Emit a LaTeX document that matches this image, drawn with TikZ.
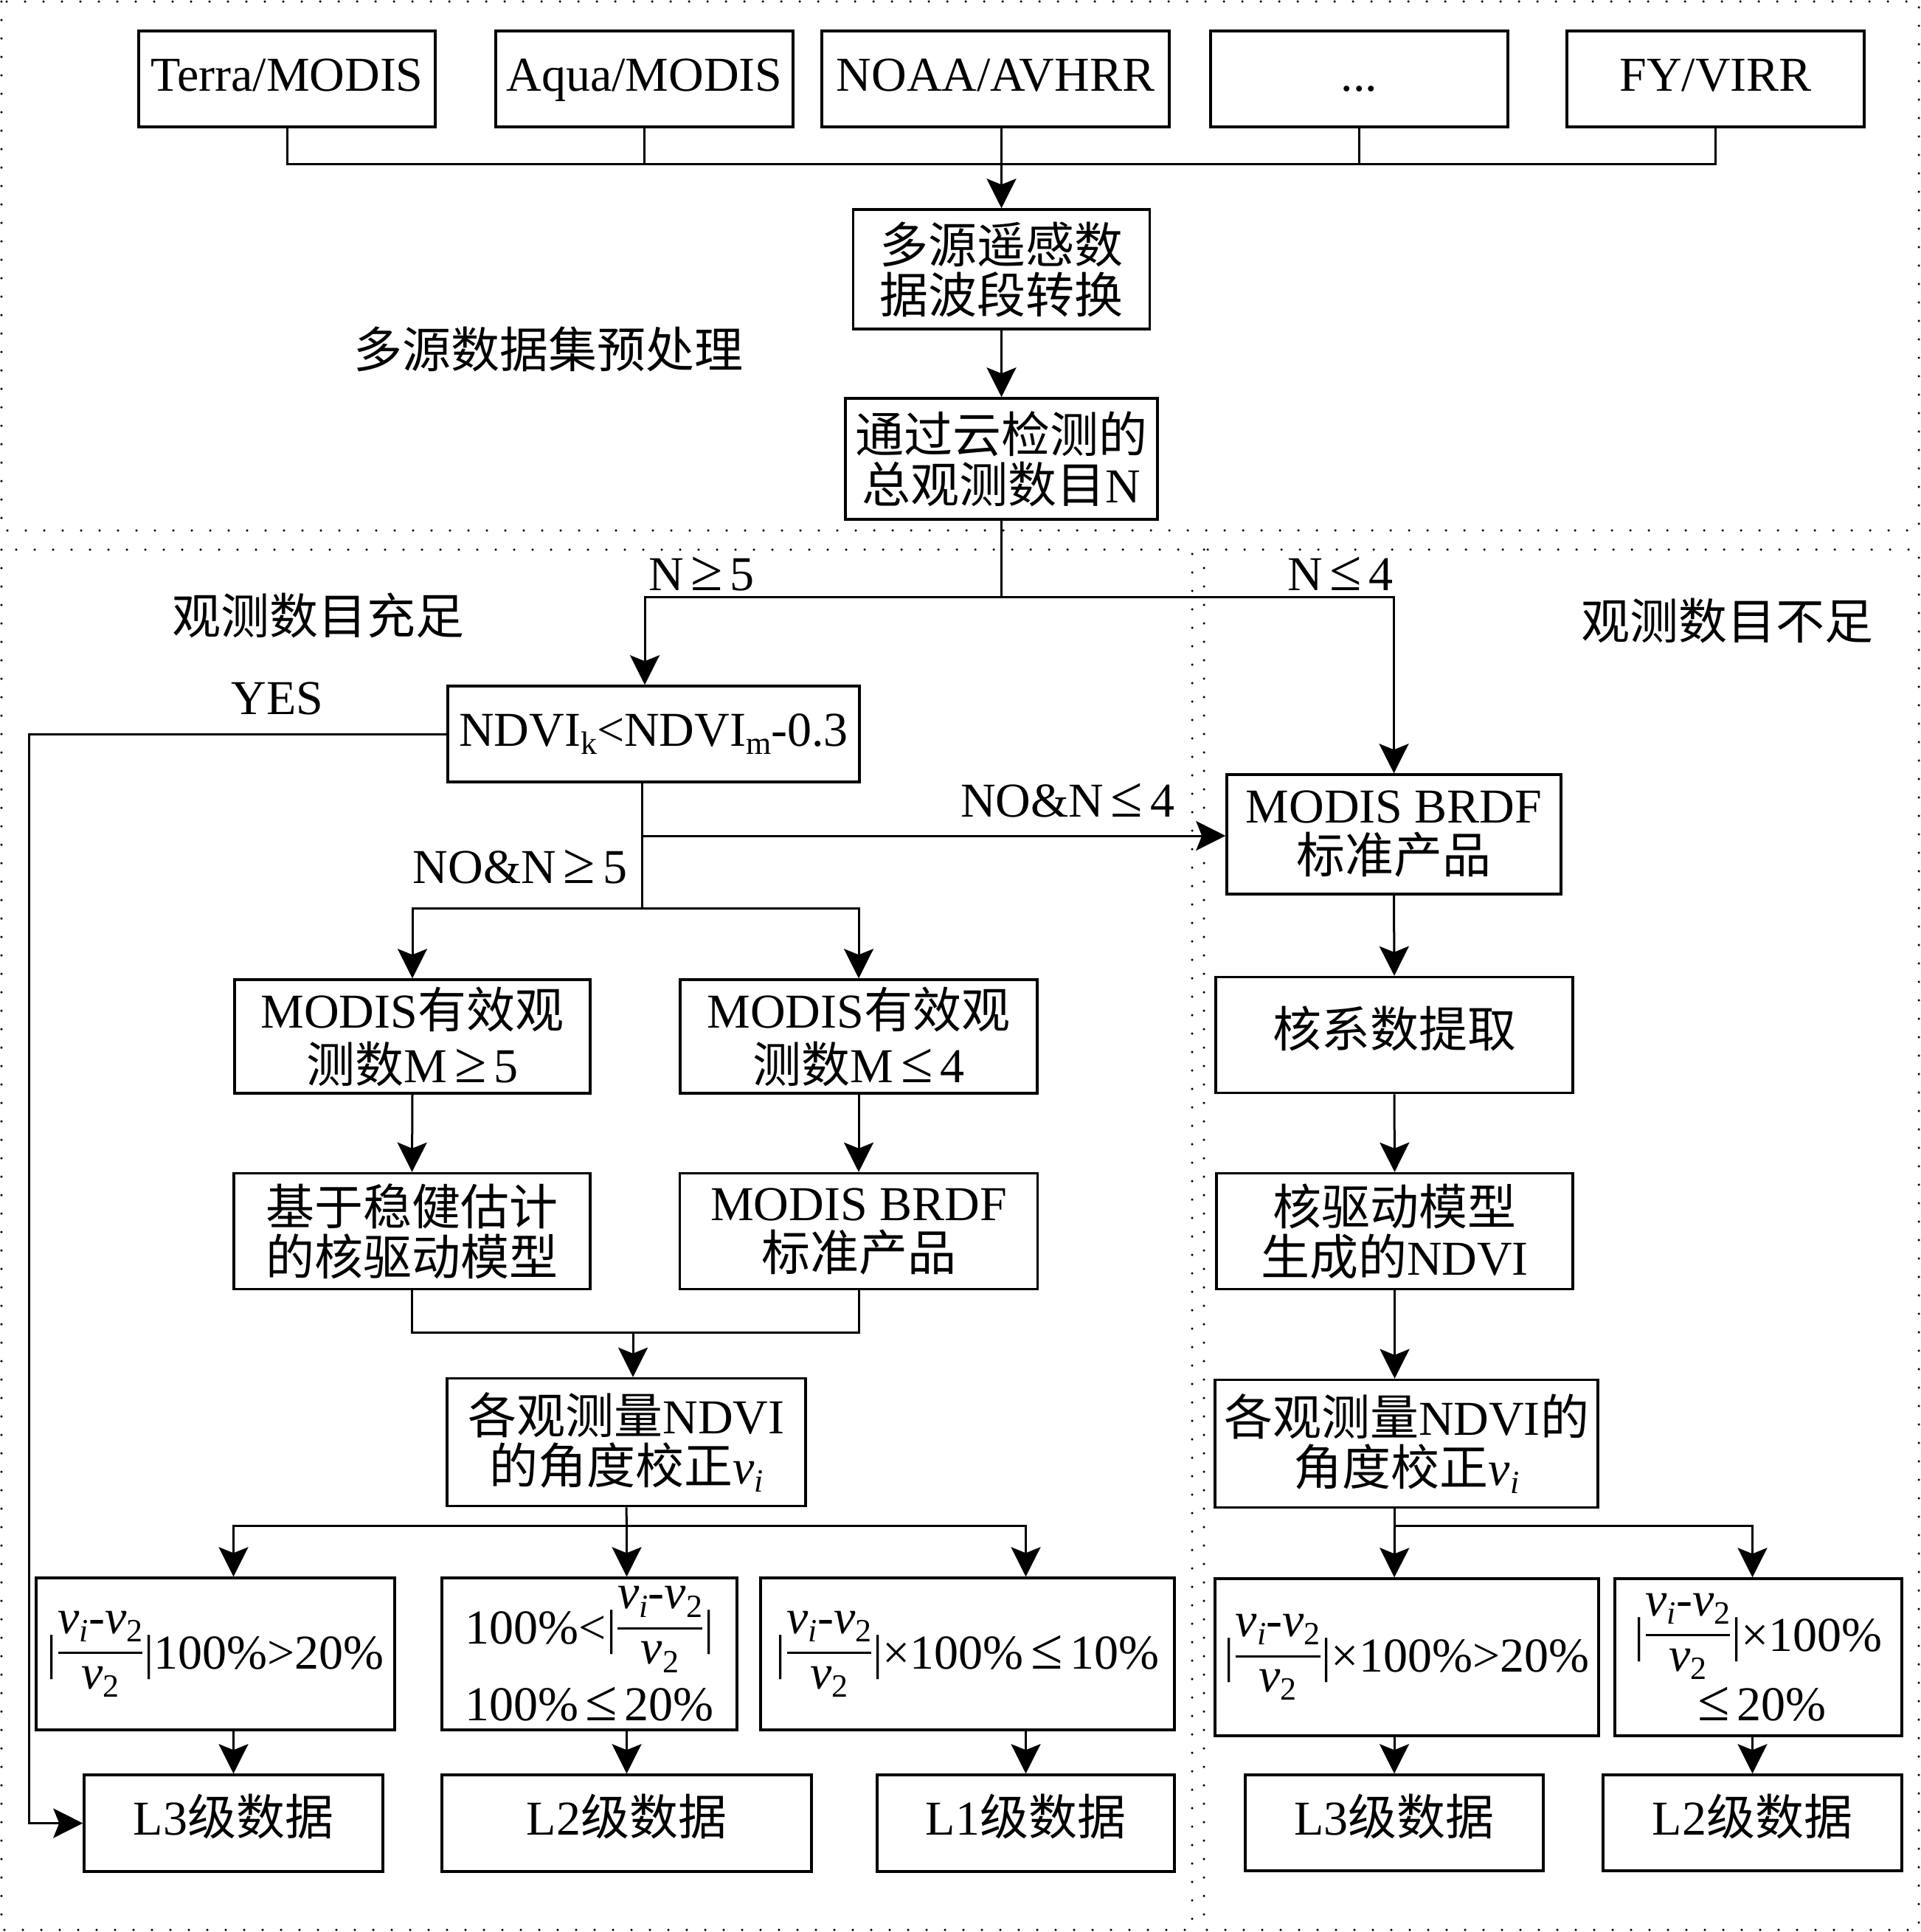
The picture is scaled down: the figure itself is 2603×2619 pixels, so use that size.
\documentclass[tikz,border=0pt]{standalone}
\usepackage{fontspec}
\usepackage{graphicx}
\setmainfont{Liberation Serif}
\newfontfamily\cjk{Noto Sans CJK SC}
\usetikzlibrary{arrows.meta}
\newcommand\zh[1]{{\cjk #1}}
\newcommand\sub[1]{\raisebox{-0.17em}{\fontsize{44}{44}\selectfont #1}}
\newcommand\vv{\textit{v}}
\newcommand\vnum{\vv\sub{\textit{i}}-\vv\sub{2}}
\newcommand\vden{\vv\sub{2}}
\newsavebox\numbox
\newsavebox\denbox
\newcommand\vfrac{\sbox\numbox{\vnum}\sbox\denbox{\vden}%
  \raisebox{48pt}{\usebox\numbox}\kern-\wd\numbox
  \rule[20pt]{\wd\numbox}{3pt}\kern-\wd\numbox
  \raisebox{-27pt}{\makebox[\wd\numbox]{\usebox\denbox}}}
\newcommand\absfrac{|\kern2pt\vfrac\kern2pt|}
\newcommand\myleq{\makebox[0.95em]{\scalebox{1.2}{≤}}}
\newcommand\mygeq{\makebox[0.95em]{\scalebox{1.2}{≥}}}
\tikzset{
  box/.style={draw, line width=3.5pt, inner sep=0pt, align=center,
    font=\fontsize{66}{68}\selectfont},
  wide/.style={font=\fontsize{66}{74}\selectfont},
  one/.style={text height=46pt, text depth=14pt},
  lbl/.style={inner sep=0pt, align=center, font=\fontsize{66}{68}\selectfont},
  conn/.style={line width=3pt},
  arr/.style={line width=3pt, -{Stealth[length=40pt,width=40pt,inset=8pt]}},
  region/.style={line width=3.5pt, dash pattern=on 0pt off 25pt, line cap=round}
}
\begin{document}
\begin{tikzpicture}[x=1pt,y=-1pt]
\useasboundingbox (0,0) rectangle (2603,2619);
% dotted regions
\draw[region] (2,2) rectangle (2601,719);
\draw[region] (2,745) rectangle (1616,2616);
\draw[region] (1632,745) rectangle (2601,2616);

% top sources
\node[box, one, minimum width=402pt, minimum height=130pt] (terra) at (389,107) {Terra/MODIS};
\node[box, one, minimum width=403pt, minimum height=130pt] (aqua) at (873.5,107) {Aqua/MODIS};
\node[box, one, minimum width=471pt, minimum height=130pt] (noaa) at (1349.5,107) {NOAA/AVHRR};
\node[box, one, minimum width=403pt, minimum height=130pt] (dots) at (1842.5,107) {...};
\node[box, one, minimum width=403pt, minimum height=130pt] (fy) at (2325.5,107) {FY/VIRR};

\node[box, minimum width=402pt, minimum height=162pt] (conv) at (1357.5,365) {\zh{多源遥感数}\\\zh{据波段转换}};
\node[box, minimum width=423pt, minimum height=164pt] (cloud) at (1357.5,622) {\zh{通过云检测的}\\\zh{总观测数目}N};
\node[lbl] (pre) at (743,473) {\zh{多源数据集预处理}};

% left branch
\node[lbl] (enough) at (431,834) {\zh{观测数目充足}};
\node[lbl] (notenough) at (2341,841) {\zh{观测数目不足}};
\node[lbl] (lgn5) at (951,778) {N\mygeq5};
\node[lbl] (lln4) at (1817,778) {N\myleq4};

\node[box, minimum width=558pt, minimum height=130pt] (ndvi) at (886,995) {NDVI\sub{k}<NDVI\sub{m}-0.3};
\node[lbl] (yes) at (376,947) {YES};
\node[lbl] (no4) at (1447,1085) {NO\&N\myleq4};
\node[lbl] (no5) at (705,1175) {NO\&N\mygeq5};

\node[box, wide, minimum width=482pt, minimum height=154pt] (m5) at (559,1405) {MODIS\zh{有效观}\\\zh{测数}M\mygeq5};
\node[box, wide, minimum width=484pt, minimum height=154pt] (m4) at (1164,1405) {MODIS\zh{有效观}\\\zh{测数}M\myleq4};
\node[box, minimum width=483pt, minimum height=157pt] (robust) at (558.5,1669) {\zh{基于稳健估计}\\\zh{的核驱动模型}};
\node[box, minimum width=485pt, minimum height=157pt] (brdfL) at (1164,1669) {MODIS BRDF\\\zh{标准产品}};
\node[box, minimum width=486pt, minimum height=173pt] (angL) at (849,1955) {\zh{各观测量}NDVI\\\zh{的角度校正}\vv\sub{\textit{i}}};

\node[box, minimum width=486pt, minimum height=206pt] (A) at (292,2242) {\absfrac100\%>20\%};
\node[box, minimum width=400pt, minimum height=206pt] (B) at (799,2242) {100\%<\absfrac\\[19pt]100\%\myleq20\%};
\node[box, minimum width=561pt, minimum height=206pt] (C) at (1311.5,2242) {\absfrac×100\%\myleq10\%};

\node[box, one, minimum width=405pt, minimum height=131pt] (L3) at (316.5,2471.5) {L3\zh{级数据}};
\node[box, one, minimum width=501pt, minimum height=131pt] (L2) at (849.5,2471.5) {L2\zh{级数据}};
\node[box, one, minimum width=403pt, minimum height=131pt] (L1) at (1390.5,2471.5) {L1\zh{级数据}};

% right branch
\node[box, minimum width=453pt, minimum height=162pt] (brdfR) at (1889.5,1131) {MODIS BRDF\\\zh{标准产品}};
\node[box, one, minimum width=484pt, minimum height=157pt] (kern) at (1890,1403) {\zh{核系数提取}};
\node[box, minimum width=483pt, minimum height=157pt] (kndvi) at (1890.5,1669) {\zh{核驱动模型}\\\zh{生成的}NDVI};
\node[box, minimum width=519pt, minimum height=173pt] (angR) at (1906.5,1957) {\zh{各观测量}NDVI\zh{的}\\\zh{角度校正}\vv\sub{\textit{i}}};
\node[box, minimum width=520pt, minimum height=213pt] (D) at (1907,2246.5) {\absfrac×100\%>20\%};
\node[box, minimum width=389pt, minimum height=213pt] (E) at (2383.5,2246.5) {\absfrac×100\%\\[9pt]\myleq20\%};
\node[box, one, minimum width=404pt, minimum height=130pt] (L3R) at (1890,2471) {L3\zh{级数据}};
\node[box, one, minimum width=405pt, minimum height=130pt] (L2R) at (2375.5,2471) {L2\zh{级数据}};

% connectors top
\coordinate (bus) at (1357.5,222);
\draw[conn] (terra.south) |- (bus);
\draw[conn] (fy.south) |- (bus);
\draw[conn] (aqua.south) -- (aqua.south |- bus);
\draw[conn] (dots.south) -- (dots.south |- bus);
\draw[arr] (noaa.south -| bus) -- (conv.north);
\draw[arr] (conv.south) -- (cloud.north);

% split by N
\coordinate (split1) at (1357.5,809);
\coordinate (n5) at (874,809);
\draw[conn] (cloud.south) -- (split1);
\draw[arr] (split1) -- (n5) -- (n5 |- ndvi.north);
\draw[arr] (split1) -| (brdfR.north);

% YES branch
\coordinate (yesc) at (39,995);
\draw[arr] (ndvi.west) -- (yesc) |- (L3.west);

% NO branches
\coordinate (j1) at (870,1133);
\coordinate (j2) at (870,1231);
\draw[conn] (ndvi.south -| j1) -- (j2);
\draw[arr] (j1) -- (j1 -| brdfR.west);
\draw[arr] (j2) -| (m5.north);
\draw[arr] (j2) -| (m4.north);
\draw[arr] (m5.south) -- (robust.north);
\draw[arr] (m4.south) -- (brdfL.north);
\coordinate (j3) at (858,1806);
\draw[conn] (robust.south) |- (j3);
\draw[conn] (brdfL.south) |- (j3);
\draw[arr] (j3) -- (j3 |- angL.north);
\coordinate (j4) at (849.5,2068);
\draw[conn] (angL.south) -- (j4);
\draw[arr] (j4) -| (L3.north |- A.north);
\draw[arr] (j4) -- (j4 |- B.north);
\draw[arr] (j4) -| (L1.north |- C.north);
\draw[arr] (L3.north |- A.south) -- (L3.north);
\draw[arr] (L2.north |- B.south) -- (L2.north);
\draw[arr] (L1.north |- C.south) -- (L1.north);

% right chain
\draw[arr] (brdfR.south) -- (kern.north);
\draw[arr] (kern.south) -- (kndvi.north);
\draw[arr] (kndvi.south) -- (kndvi.south |- angR.north);
\coordinate (j5) at (1890.5,2068);
\draw[conn] (angR.south -| j5) -- (j5);
\draw[arr] (j5) -- (L3R.north |- D.north);
\draw[arr] (j5) -| (L2R.north |- E.north);
\draw[arr] (L3R.north |- D.south) -- (L3R.north);
\draw[arr] (L2R.north |- E.south) -- (L2R.north);
\end{tikzpicture}
\end{document}
